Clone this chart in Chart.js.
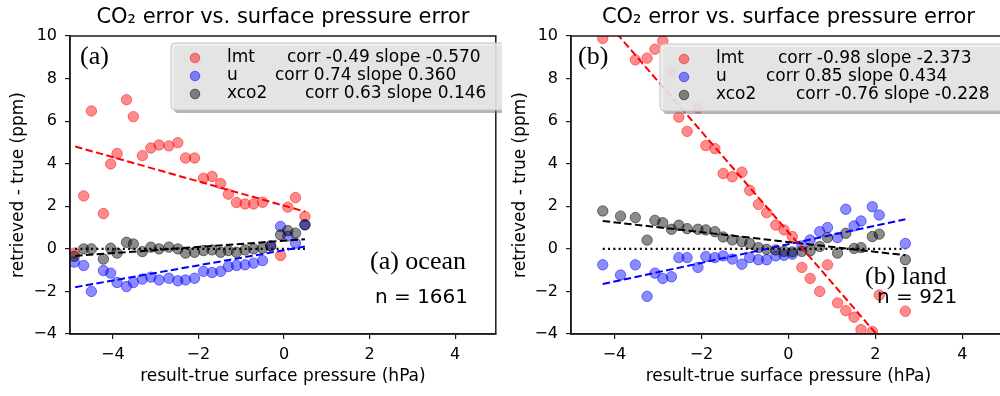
<!DOCTYPE html>
<html lang="en">
<head>
<meta charset="UTF-8">
<title>CO2 error vs. surface pressure error</title>
<script src="https://cdn.jsdelivr.net/npm/chart.js"></script>
<style>
  html, body { margin: 0; padding: 0; background: #fff; }
  body { width: 1000px; height: 396px; position: relative; overflow: hidden; }
  .panel { position: absolute; top: 0; height: 396px; overflow: hidden; background: #fff; }
  .inner { position: relative; height: 396px; }
</style>
</head>
<body>
<div class="panel" style="left:0;width:502px"><div class="inner" style="width:502px"><canvas id="oceanChart"></canvas></div></div>
<div class="panel" style="left:502px;width:498px"><div class="inner" style="width:510px"><canvas id="landChart"></canvas></div></div>

<script>
// ---- data ----
const seriesNames = ['lmt', 'u', 'xco2'];
const xTickVals = [-4, -2, 0, 2, 4];
const yTickVals = [-4, -2, 0, 2, 4, 6, 8, 10];
const titleText = 'CO\u2082 error vs. surface pressure error';
const xTitle = 'result-true surface pressure (hPa)';
const yTitle = 'retrieved - true (ppm)';

// (a) ocean
const oceanX = [-4.9, -4.68, -4.5, -4.22, -4.05, -3.9, -3.68, -3.52, -3.31, -3.11, -2.92, -2.69, -2.48, -2.3,
                -2.09, -1.88, -1.68, -1.48, -1.3, -1.11, -0.91, -0.71, -0.5, -0.31, -0.08, 0.09, 0.27, 0.49];
const oceanLmt = [-0.2, 2.49, 6.48, 1.66, 3.99, 4.48, 7.01, 6.21, 4.38, 4.74, 4.88, 4.84, 4.99, 4.27,
                  4.27, 3.32, 3.40, 3.07, 2.57, 2.18, 2.11, 2.11, 2.19, null, -0.31, 1.96, 2.41, 1.52];
const oceanU = [-0.62, -0.78, -2.0, -1.02, -1.14, -1.58, -1.77, -1.58, -1.42, -1.33, -1.46, -1.38, -1.5, -1.46,
                -1.38, -1.06, -1.11, -1.06, -0.83, -0.78, -0.75, -0.67, -0.55, 0.14, 1.05, 0.6, 0.27, 1.13];
const oceanXco2 = [-0.35, 0.0, 0.0, -0.48, 0.03, -0.2, 0.31, 0.23, -0.13, 0.08, 0.0, 0.08, 0.0, -0.2,
                   -0.16, -0.08, -0.05, -0.16, -0.08, -0.16, -0.05, 0.0, 0.03, 0.14, 0.66, 0.86, 0.74, 1.13];
const oceanFitX = [-4.88, 0.49];
const oceanFitLmt = [4.81, 1.75];
const oceanFitU = [-1.8, 0.11];
const oceanFitXco2 = [-0.33, 0.45];
const oceanStats = ['corr -0.49 slope -0.570', 'corr 0.74 slope 0.360', 'corr 0.63 slope 0.146'];

// (b) land
const landX = [-4.27, -3.86, -3.52, -3.25, -3.07, -2.89, -2.69, -2.52, -2.33, -2.08, -1.9, -1.69, -1.5, -1.29, -1.07, -0.89,
               -0.69, -0.5, -0.29, -0.1, 0.09, 0.31, 0.5, 0.72, 0.9, 1.13, 1.32, 1.51, 1.67, 1.93, 2.09, 2.69];
const landLmt = [9.89, null, 8.88, 8.96, 9.38, 9.77, 8.33, 6.19, 5.52, 6.61, 4.85, 4.71, 3.54, 3.39, 3.6, 2.75,
                 2.09, 1.7, 1.12, 0.89, 0.58, -0.87, -1.39, -2.0, -0.75, -2.54, -2.9, -3.21, -3.79, -3.88, -2.17, -2.93];
const landU = [-0.75, -1.23, -0.75, -2.23, -1.14, -1.39, -1.31, -0.41, -0.41, -0.87, -0.36, -0.41, -0.33, -0.48, -0.72, -0.41,
               -0.51, -0.51, -0.33, -0.3, -0.25, 0.14, 0.42, 0.81, 1.0, 0.53, 1.86, 1.08, 1.31, 1.98, 1.59, 0.25];
const landXco2 = [1.78, 1.54, 1.47, 0.41, 1.34, 1.23, 0.92, 1.11, 0.95, 0.92, 0.89, 0.81, 0.56, 0.42, 0.34, 0.25,
                  0.06, -0.02, -0.05, -0.12, -0.14, -0.12, -0.09, 0.11, 0.53, -0.2, 0.73, 0.02, 0.06, 0.58, 0.69, -0.51];
const landFitX = [-4.27, 2.69];
const landFitLmt = [10.88, -5.58];
const landFitU = [-1.65, 1.39];
const landFitXco2 = [1.31, -0.3];
const landStats = ['corr -0.98 slope -2.373', 'corr 0.85 slope 0.434', 'corr -0.76 slope -0.228'];

const zeroLine = [0, 0];
const panelTags = ['(a)', '(b)'];
const regionNotes = ['(a) ocean', '(b) land'];
const sampleNotes = ['n = 1661', 'n = 921'];

// ---- styles ----
const SANS = '"DejaVu Sans", sans-serif';
const SERIF = '"Liberation Serif", "Times New Roman", serif';
const axisColor = '#1a1a1a';
const fills = ['rgba(255,0,0,0.45)', 'rgba(0,0,255,0.45)', 'rgba(0,0,0,0.45)'];
const edges = ['rgba(255,0,0,0.5)', 'rgba(0,0,255,0.5)', 'rgba(0,0,0,0.5)'];
const lineColors = ['#ff0000', '#0000ff', '#000000'];
const dotRadius = 5.2;

function fmtTick(v) {
    return v < 0 ? '\u2212' + (-v) : String(v);
}

function pts(xs, ys) {
    return xs.map((x, i) => ({ x: x, y: ys[i] })).filter(d => d.y !== null);
}

// draws box, title, legend and text labels
const panelDecor = {
    id: 'panelDecor',
    afterDatasetsDraw(chart, args, o) {
        const ctx = chart.ctx;
        const a = chart.chartArea;
        ctx.save();

        ctx.strokeStyle = axisColor;
        ctx.lineWidth = 1.5;
        ctx.strokeRect(a.left, a.top, a.right - a.left, a.bottom - a.top);

        ctx.fillStyle = '#000';
        ctx.textBaseline = 'middle';
        ctx.textAlign = 'center';
        ctx.font = '21px ' + SANS;
        ctx.fillText(titleText, (a.left + a.right) / 2, 18);

        // legend
        const L = o.legend;
        ctx.fillStyle = 'rgba(120,120,120,0.55)';
        ctx.beginPath();
        ctx.roundRect(L.x + 3, L.y + 3, L.w, L.h, 4);
        ctx.fill();
        ctx.fillStyle = 'rgba(236,236,236,0.85)';
        ctx.strokeStyle = '#c4c4c4';
        ctx.lineWidth = 1;
        ctx.beginPath();
        ctx.roundRect(L.x, L.y, L.w, L.h, 4);
        ctx.fill();
        ctx.stroke();

        ctx.font = '17px ' + SANS;
        ctx.textAlign = 'left';
        seriesNames.forEach((name, k) => {
            const cy = L.y + 15 + k * 18;
            const mx = L.x + 24;
            ctx.beginPath();
            ctx.arc(mx, cy, dotRadius - 0.4, 0, Math.PI * 2);
            ctx.fillStyle = fills[k];
            ctx.fill();
            ctx.strokeStyle = edges[k];
            ctx.stroke();
            ctx.fillStyle = '#000';
            ctx.fillText(name, mx + 32, cy);
            ctx.fillText(o.stats[k], mx + L.statOffsets[k], cy);
        });

        // panel text
        o.notes.forEach(n => {
            ctx.font = n.font;
            ctx.fillStyle = '#000';
            ctx.fillText(n.text, n.x, n.y);
        });
        ctx.restore();
    }
};

function buildChart(id, p) {
    const datasets = [];
    p.series.forEach((ys, k) => {
        datasets.push({
            type: 'scatter',
            label: seriesNames[k],
            data: pts(p.x, ys),
            backgroundColor: fills[k],
            borderColor: edges[k],
            borderWidth: 1,
            pointRadius: dotRadius,
            pointHoverRadius: dotRadius,
            order: 3 - k
        });
    });
    p.fits.forEach((ys, k) => {
        datasets.push({
            type: 'line',
            data: pts(p.fitX, ys),
            borderColor: lineColors[k],
            borderWidth: 2,
            borderDash: [7.4, 3.4],
            pointRadius: 0,
            fill: false,
            tension: 0,
            order: 0
        });
    });
    datasets.push({
        type: 'line',
        data: pts(p.fitX, zeroLine),
        borderColor: '#000',
        borderWidth: 2.2,
        borderDash: [2, 3.3],
        pointRadius: 0,
        fill: false,
        order: 0
    });

    return new Chart(document.getElementById(id), {
        type: 'scatter',
        data: { datasets: datasets },
        plugins: [panelDecor],
        options: {
            responsive: true,
            maintainAspectRatio: false,
            animation: false,
            layout: { padding: { left: 0, right: p.padRight, top: 36, bottom: 0 } },
            plugins: {
                legend: { display: false },
                tooltip: { enabled: false },
                panelDecor: { legend: p.legend, stats: p.stats, notes: p.notes }
            },
            scales: {
                x: {
                    type: 'linear',
                    min: p.xMin,
                    max: p.xMax,
                    afterBuildTicks: s => { s.ticks = xTickVals.map(v => ({ value: v })); },
                    afterFit: s => { s.height = 62; },
                    grid: { display: true, drawOnChartArea: false, drawTicks: true, tickLength: 5, color: axisColor, lineWidth: 1.2 },
                    border: { display: true, color: axisColor, width: 1.5 },
                    ticks: { color: '#000', font: { family: SANS, size: 16 }, padding: 6, maxRotation: 0, autoSkip: false, callback: fmtTick },
                    title: { display: true, text: xTitle, color: '#000', font: { family: SANS, size: 17 }, padding: { top: 0, bottom: 9 } }
                },
                y: {
                    type: 'linear',
                    min: -4,
                    max: 10,
                    afterBuildTicks: s => { s.ticks = yTickVals.map(v => ({ value: v })); },
                    afterFit: s => { s.width = p.yWidth; },
                    grid: { display: true, drawOnChartArea: false, drawTicks: true, tickLength: 5, color: axisColor, lineWidth: 1.2 },
                    border: { display: true, color: axisColor, width: 1.5 },
                    ticks: { color: '#000', font: { family: SANS, size: 16 }, padding: 8, autoSkip: false, callback: fmtTick },
                    title: { display: true, text: yTitle, color: '#000', font: { family: SANS, size: 17 }, padding: { top: 8, bottom: 0 } }
                }
            }
        }
    });
}

buildChart('oceanChart', {
    x: oceanX,
    series: [oceanLmt, oceanU, oceanXco2],
    fitX: oceanFitX,
    fits: [oceanFitLmt, oceanFitU, oceanFitXco2],
    stats: oceanStats,
    xMin: -5, xMax: 4.95,
    yWidth: 70, padRight: 1,
    legend: { x: 171, y: 43, w: 345, h: 67, statOffsets: [92, 80, 110] },
    notes: [
        { text: panelTags[0], x: 80, y: 57, font: '26px ' + SERIF },
        { text: regionNotes[0], x: 370, y: 262, font: '26px ' + SERIF },
        { text: sampleNotes[0], x: 375, y: 298, font: '20px ' + SANS }
    ]
});

buildChart('landChart', {
    x: landX,
    series: [landLmt, landU, landXco2],
    fitX: landFitX,
    fits: [landFitLmt, landFitU, landFitXco2],
    stats: landStats,
    xMin: -5, xMax: 5,
    yWidth: 69, padRight: 6,
    legend: { x: 158, y: 44, w: 360, h: 67, statOffsets: [94, 82, 112] },
    notes: [
        { text: panelTags[1], x: 76, y: 57, font: '26px ' + SERIF },
        { text: regionNotes[1], x: 363, y: 277, font: '26px ' + SERIF },
        { text: sampleNotes[1], x: 375, y: 298, font: '20px ' + SANS }
    ]
});
</script>
</body>
</html>
